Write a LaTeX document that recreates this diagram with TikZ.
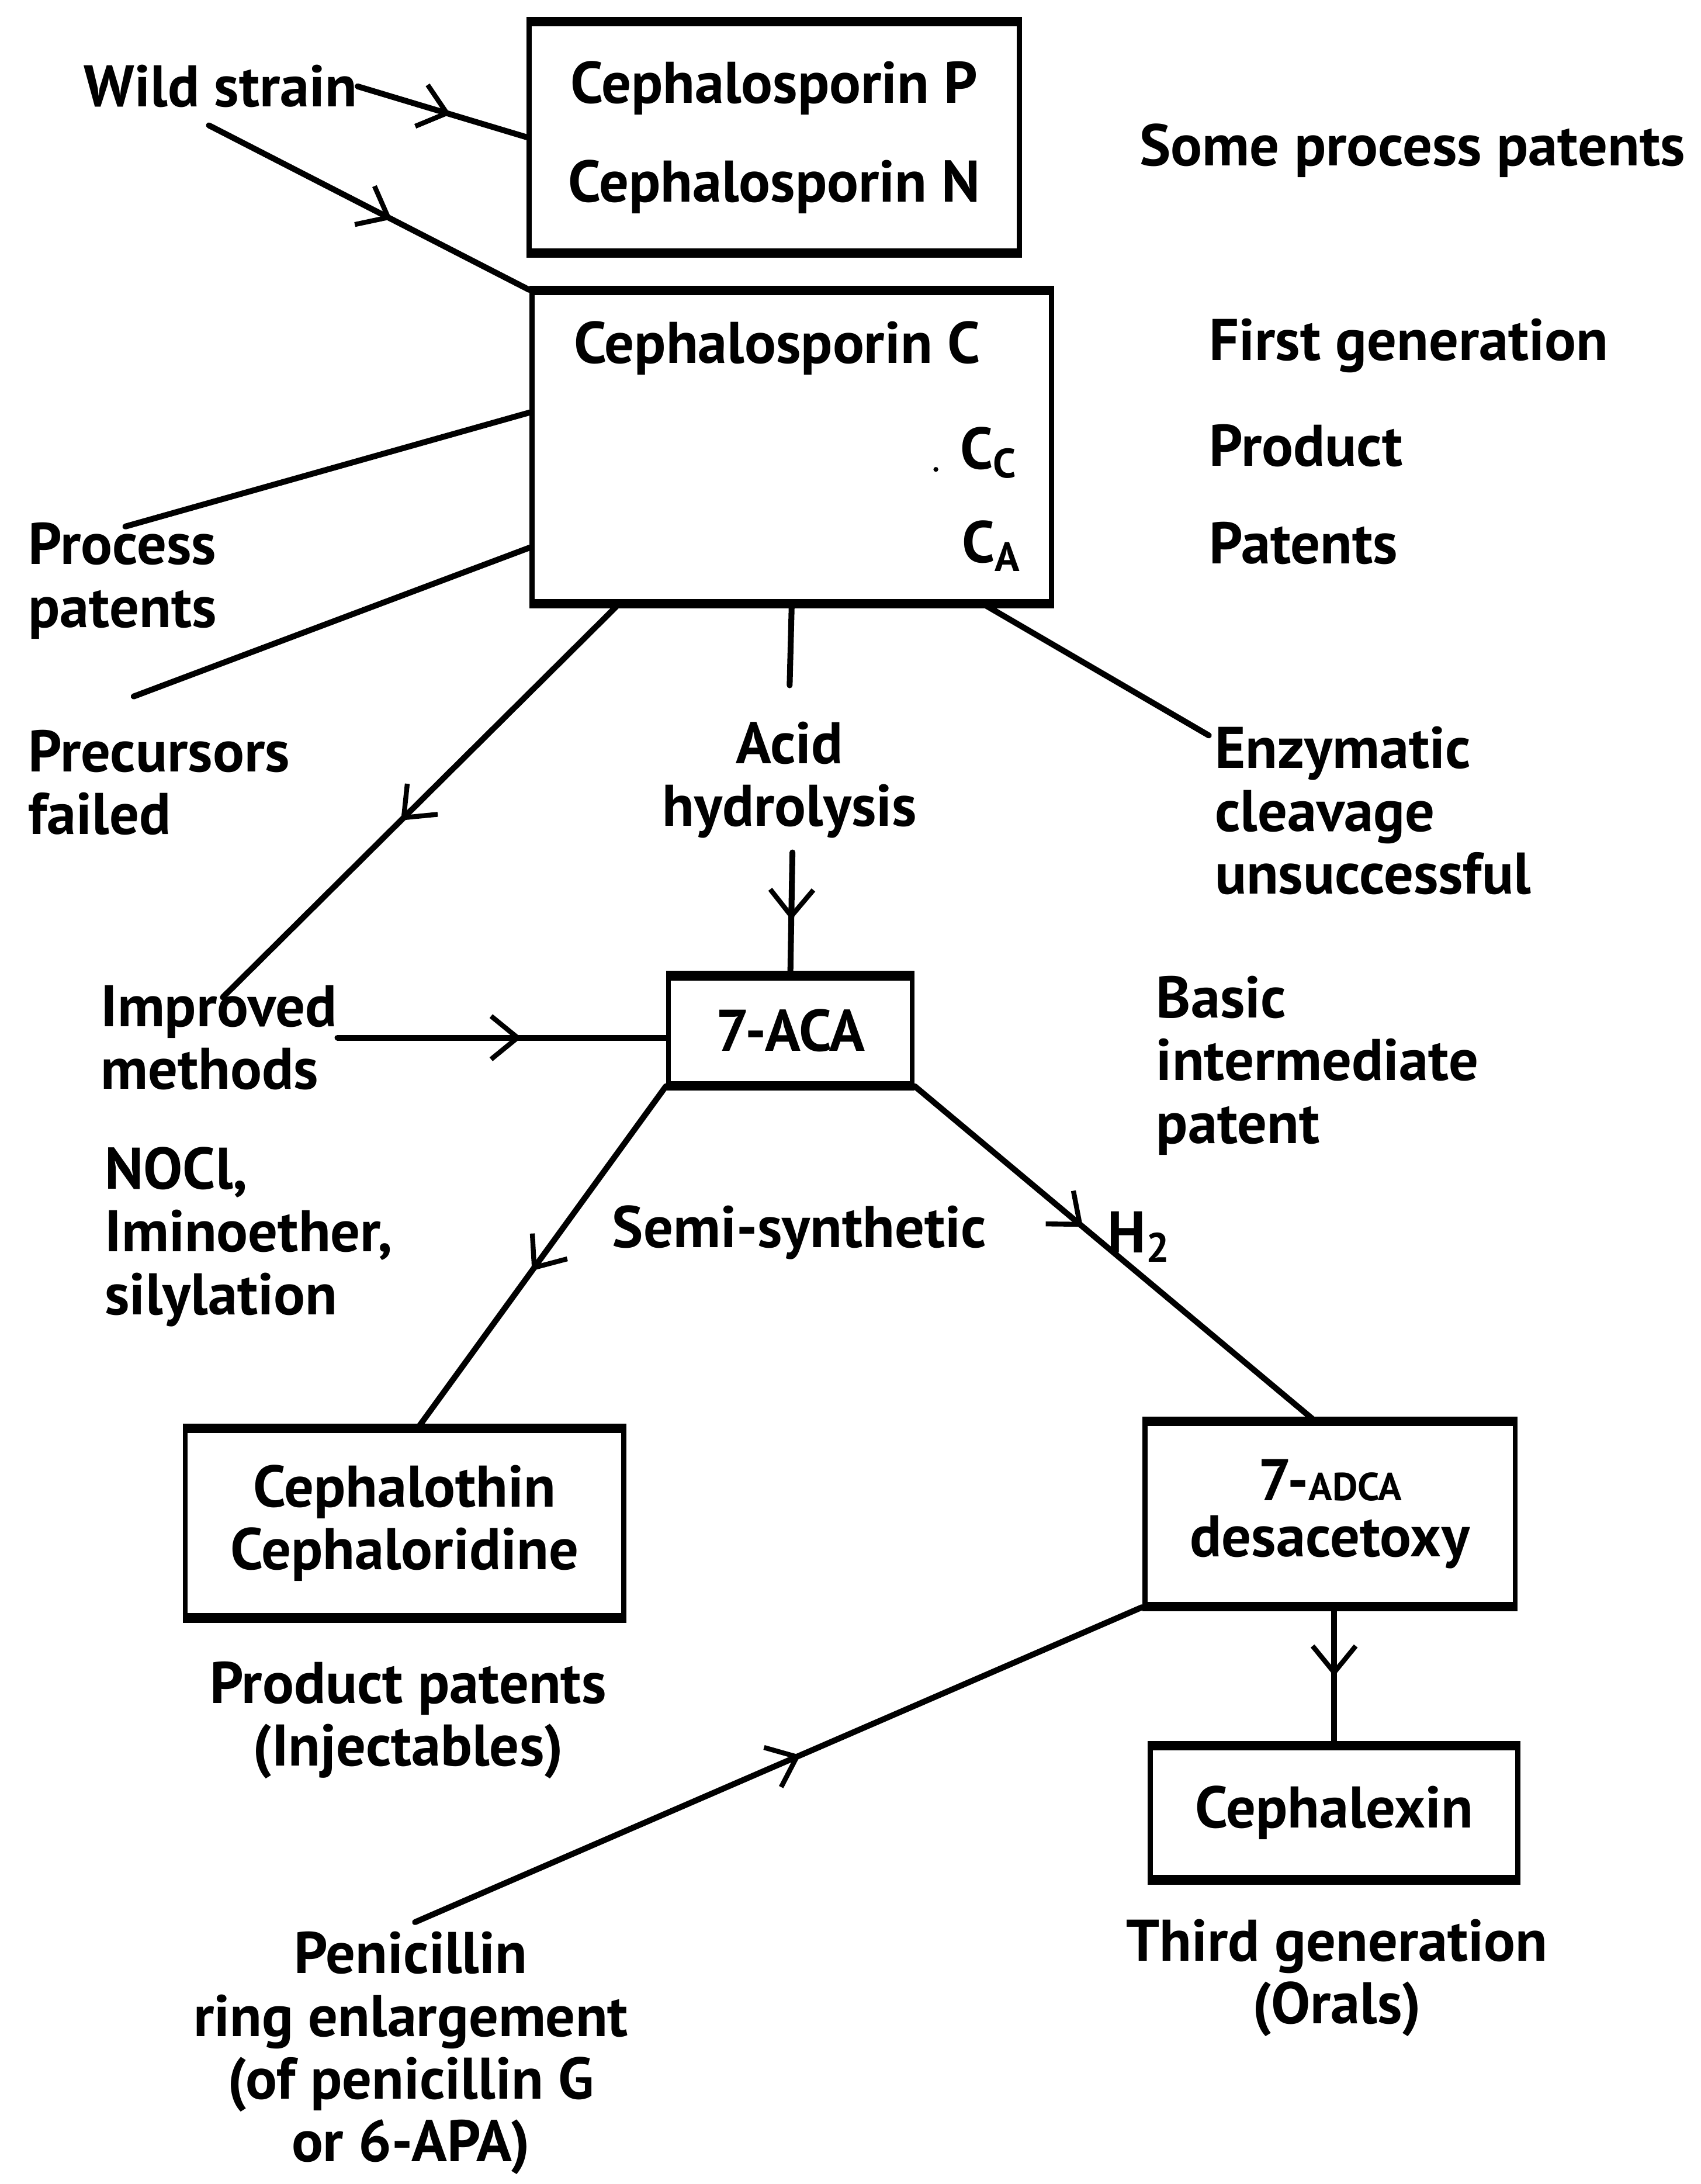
\documentclass[tikz,border=0pt]{standalone}
\usepackage{fontspec}
\setmainfont{PT Sans}
\usetikzlibrary{arrows.meta,decorations.markings,calc}

\tikzset{
  txt/.style={font=\fontsize{24}{25.6}\selectfont\bfseries, inner sep=0pt, align=left},
  box/.style={draw, line width=2.1pt, inner sep=0pt, align=center,
              font=\fontsize{24}{25.6}\selectfont\bfseries},
  boxedge/.style={line width=3.6pt},
  conn/.style={line width=2.4pt, line cap=round},
  midarrow/.style={postaction={decorate, decoration={markings,
      mark=at position #1 with {\arrow[line width=2pt]{Straight Barb[length=0.38cm,width=0.62cm]}}}}}
}

\begin{document}
\begin{tikzpicture}[x=0.02cm, y=-0.02cm]
\useasboundingbox (0,0) rectangle (1221,1568);

% boxes
\node[box, minimum width=7.04cm, minimum height=3.26cm] (cpn) at (556,98.5)
  {Cephalosporin P\\[0.52cm]Cephalosporin N};
\node[box, minimum width=7.46cm, minimum height=4.44cm] (cc) at (568.5,321) {};
\node[txt] (cctitle) at (558,250) {Cephalosporin C};
\node[txt] (ccc) at (710,325) {C\textsubscript{C}};
\node[txt] (cca) at (712,392) {C\textsubscript{A}};
\fill (672,337) circle (0.035cm);
\node[box, minimum width=3.5cm, minimum height=1.52cm] (aca) at (567.5,740) {7-ACA};
\node[box, minimum width=6.3cm, minimum height=2.66cm] (cth) at (290.5,1093.5)
  {Cephalothin\\Cephaloridine};
\node[box, minimum width=5.32cm, minimum height=2.6cm] (adca) at (955,1087)
  {7-{\fontsize{16}{16}\selectfont ADCA}\\[-0.1cm]desacetoxy};
\node[box, minimum width=5.28cm, minimum height=1.86cm] (cx) at (958,1301.5) {Cephalexin};

% heavier top and bottom rules of the boxes
\foreach \b in {cpn,cc,aca,cth,adca,cx}{
  \draw[boxedge] (\b.north west) -- (\b.north east);
  \draw[boxedge] (\b.south west) -- (\b.south east);
}

% labels
\node[txt, anchor=west] (ws) at (60,62) {Wild strain};
\node[txt, anchor=west] (spp) at (818,108) {Some process patents};
\node[txt, anchor=west] (fg) at (868,248) {First generation};
\node[txt, anchor=west] (prd) at (868,320) {Product};
\node[txt, anchor=west] (pat) at (868,390) {Patents};
\node[txt, anchor=west] (pp) at (20,417) {Process\\patents};
\node[txt, anchor=west] (pf) at (20,562) {Precursors\\failed};
\node[txt, align=center] (acid) at (567,560) {Acid\\hydrolysis};
\node[txt, anchor=west] (enz) at (872,582) {Enzymatic\\cleavage\\unsuccessful};
\node[txt, anchor=west] (imp) at (72,745) {Improved\\methods};
\node[txt, anchor=west] (bip) at (830,765) {Basic\\intermediate\\patent};
\node[txt, anchor=west] (noc) at (75,888) {NOCl,\\Iminoether,\\silylation};
\node[txt] (semi) at (574,885) {Semi-synthetic};
\node[txt] (h2) at (818,888) {H\textsubscript{2}};
\node[txt, align=center] (ppi) at (293,1235) {Product patents\\(Injectables)};
\node[txt, align=center] (tg) at (960,1420) {Third generation\\(Orals)};
\node[txt, align=center] (pen) at (295,1474)
  {Penicillin\\ring enlargement\\(of penicillin G\\or 6-APA)};

% free ends of connectors
\coordinate (wsB) at (150,90);
\coordinate (ppE) at (90,378);
\coordinate (pfE) at (96,500);
\coordinate (impE) at (160,716);
\coordinate (acidT) at (567,492);
\coordinate (acidB) at (569,612);
\coordinate (enzE) at (868,528);
\coordinate (penE) at (298,1380);

% connectors
\draw[conn, midarrow=0.55] (ws.east) -- (cpn.west);
\draw[conn, midarrow=0.57] (wsB) -- (cc.north west);
\draw[conn] ($(cc.north west)!0.39!(cc.south west)$) -- (ppE);
\draw[conn] ($(cc.north west)!0.82!(cc.south west)$) -- (pfE);
\draw[conn, midarrow=0.55] ($(cc.south west)!0.17!(cc.south east)$) -- (impE);
\draw[conn] (cc.south) -- (acidT);
\draw[conn] ($(cc.south west)!0.866!(cc.south east)$) -- (enzE);
\draw[conn, midarrow=0.55] (acidB) -- (aca.north);
\draw[conn, midarrow=0.56] (imp.east) -- (imp.east -| aca.west);
\draw[conn, midarrow=0.54] (aca.south west) -- ($(cth.north west)!0.53!(cth.north east)$);
\draw[conn, midarrow=0.42] (aca.south east) -- ($(adca.north west)!0.46!(adca.north east)$);
\draw[conn, midarrow=0.5] (cx.north |- adca.south) -- (cx.north);
\draw[conn, midarrow=0.53] (penE) -- (adca.south west);
\end{tikzpicture}
\end{document}
